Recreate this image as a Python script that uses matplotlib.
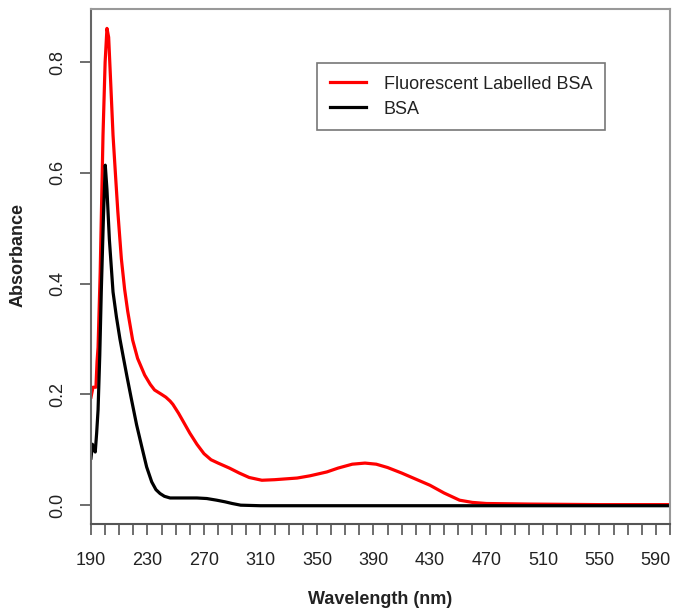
import matplotlib
matplotlib.use("Agg")
import matplotlib.pyplot as plt

plt.rcParams['font.family'] = ['Liberation Sans', 'DejaVu Sans']

# Data
red_wl = [190, 191.4, 193.5, 194.3, 195, 196.5, 198.5, 200, 201.3, 202.5, 204, 205.6, 207.5, 209,
          211.5, 213.8, 216, 219.5, 223, 228, 232, 235, 240, 243, 246, 248, 252, 256, 260, 265,
          270, 275, 280, 288, 295, 302, 311, 320, 336, 345, 357, 365, 375, 384, 392, 400, 410,
          420, 430, 440, 451, 460, 470, 500, 550, 600]
red_abs = [0.195, 0.213, 0.213, 0.26, 0.285, 0.42, 0.668, 0.80, 0.861, 0.845, 0.76, 0.668, 0.59,
           0.53, 0.445, 0.39, 0.35, 0.298, 0.265, 0.235, 0.218, 0.208, 0.200, 0.195, 0.188,
           0.182, 0.166, 0.148, 0.130, 0.110, 0.093, 0.082, 0.076, 0.067, 0.058, 0.050, 0.045,
           0.046, 0.049, 0.053, 0.060, 0.067, 0.074, 0.076, 0.074, 0.068, 0.058, 0.047, 0.036,
           0.022, 0.009, 0.005, 0.003, 0.002, 0.001, 0.001]

black_wl = [190, 191, 192, 193, 194, 195, 196.2, 197.3, 198.8, 200.1, 201.3, 203, 205.6, 208,
            210.5, 212.9, 215.5, 218.5, 222.3, 226, 229.4, 233, 236, 238.9, 242, 246, 255,
            265, 272, 279, 285, 290, 296, 310, 400, 500, 600]
black_abs = [0.085, 0.110, 0.100, 0.096, 0.13, 0.172, 0.27, 0.388, 0.52, 0.614, 0.57, 0.48,
             0.385, 0.34, 0.30, 0.267, 0.232, 0.193, 0.145, 0.105, 0.069, 0.042, 0.028, 0.021,
             0.016, 0.013, 0.013, 0.013, 0.012, 0.009, 0.006, 0.003, 0.000, -0.001, -0.001,
             -0.001, -0.001]

x_major = [190, 230, 270, 310, 350, 390, 430, 470, 510, 550, 590]
y_ticks = [0.0, 0.2, 0.4, 0.6, 0.8]
y_labels = ["0.0", "0.2", "0.4", "0.6", "0.8"]

fig = plt.figure(figsize=(6.75, 6.12), dpi=100)
ax = fig.add_axes([91/675, 88/612, 579/675, 515/612])

ax.plot(red_wl, red_abs, color='#ff0000', lw=2.3, label='Fluorescent Labelled BSA',
        solid_joinstyle='round')
ax.plot(black_wl, black_abs, color='black', lw=2.3, label='BSA', solid_joinstyle='round')

ax.set_xlim(190, 600)
ax.set_ylim(-0.034, 0.896)

ax.set_xticks(list(range(190, 601, 10)))
ax.set_xticklabels([str(v) if v in x_major else '' for v in range(190, 601, 10)])
ax.set_yticks(y_ticks)
ax.set_yticklabels(y_labels, rotation=90, va='center')

ax.tick_params(axis='both', direction='out', length=8, width=1.2, color='#555555',
               labelsize=13, labelcolor='#222222')
ax.tick_params(axis='x', pad=12)
ax.tick_params(axis='y', pad=10)

for s in ax.spines.values():
    s.set_color('#999999')
    s.set_linewidth(1.5)
ax.spines['bottom'].set_color('#555555')
ax.spines['left'].set_color('#666666')

fig.text(380/675, 1 - 600/612, 'Wavelength (nm)', ha='center', va='center',
         fontsize=13, fontweight='bold', color='#222222')
fig.text(18/675, 1 - 255/612, 'Absorbance', ha='center', va='center', rotation=90,
         fontsize=13, fontweight='bold', color='#222222')

leg = ax.legend(loc='upper left', bbox_to_anchor=(317/675, 1 - 63/612),
                bbox_transform=fig.transFigure, fontsize=13, frameon=True,
                fancybox=False, handlelength=2.0, handletextpad=1.0, labelspacing=0.45,
                borderpad=0.7, borderaxespad=0)
leg.get_frame().set_edgecolor('#555555')
leg.get_frame().set_linewidth(1.2)
for t in leg.get_texts():
    t.set_color('#222222')

fig.savefig('out.png', dpi=100)
